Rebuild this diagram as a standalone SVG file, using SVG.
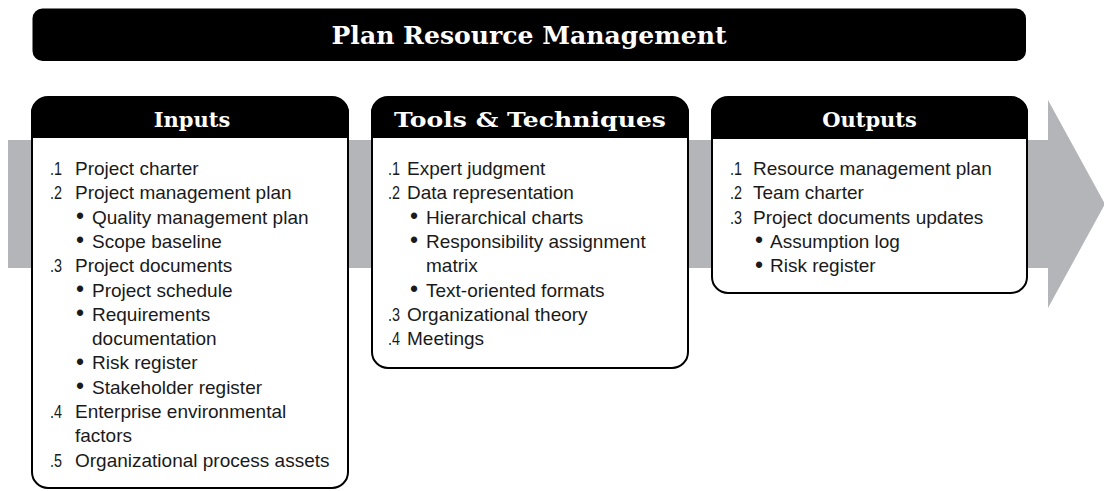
<svg xmlns="http://www.w3.org/2000/svg" width="1104" height="491" viewBox="0 0 1104 491">
  <style>
    .band { fill: #b3b5b8; }
    .box { fill: #ffffff; stroke: #000000; stroke-width: 2; }
    .hdr { fill: #000000; }
    .title { font-family: "DejaVu Serif", "Liberation Serif", serif; font-weight: bold; font-size: 24px; fill: #ffffff; text-anchor: middle; }
    .htxt { font-family: "DejaVu Serif", "Liberation Serif", serif; font-weight: bold; font-size: 21px; fill: #ffffff; text-anchor: middle; }
    .t { font-family: "Liberation Sans", Arial, sans-serif; font-size: 19px; fill: #1a1a1a; }
    .n { font-family: "Liberation Sans", Arial, sans-serif; font-size: 19px; fill: #1a1a1a; }
    .b { font-family: "Liberation Sans", Arial, sans-serif; font-size: 23px; fill: #1a1a1a; }
  </style>
  <rect width="1104" height="491" fill="#ffffff"/>

  <g id="connectors">
    <polygon class="band" points="8,140 1048,140 1048,100 1105,204 1048,308 1048,268 8,268"/>
  </g>

  <g id="title">
    <rect x="32.5" y="8.5" width="993.5" height="52.5" rx="10" fill="#000000"/>
    <text class="title" x="529" y="44" textLength="395" lengthAdjust="spacingAndGlyphs">Plan Resource Management</text>
  </g>

  <g id="inputs">
    <rect class="box" x="32" y="97" width="316" height="391" rx="16"/>
    <path class="hdr" d="M31,138 V113 A16,16 0 0 1 47,97 H333 A16,16 0 0 1 349,113 V138 Z"/>
    <text class="htxt" x="192" y="127">Inputs</text>
    <text class="n" x="50" y="175" textLength="12" lengthAdjust="spacingAndGlyphs">.1</text>
    <text class="t" x="75" y="175">Project charter</text>
    <text class="n" x="50" y="199.3" textLength="12" lengthAdjust="spacingAndGlyphs">.2</text>
    <text class="t" x="75" y="199.3">Project management plan</text>
    <text class="b" x="76" y="224">•</text>
    <text class="t" x="92" y="223.6">Quality management plan</text>
    <text class="b" x="76" y="248.3">•</text>
    <text class="t" x="92" y="247.9">Scope baseline</text>
    <text class="n" x="50" y="272.2" textLength="12" lengthAdjust="spacingAndGlyphs">.3</text>
    <text class="t" x="75" y="272.2">Project documents</text>
    <text class="b" x="76" y="296.9">•</text>
    <text class="t" x="92" y="296.5">Project schedule</text>
    <text class="b" x="76" y="321.2">•</text>
    <text class="t" x="92" y="320.8">Requirements</text>
    <text class="t" x="92" y="345.1">documentation</text>
    <text class="b" x="76" y="369.8">•</text>
    <text class="t" x="92" y="369.4">Risk register</text>
    <text class="b" x="76" y="394.1">•</text>
    <text class="t" x="92" y="393.7">Stakeholder register</text>
    <text class="n" x="50" y="418" textLength="12" lengthAdjust="spacingAndGlyphs">.4</text>
    <text class="t" x="75" y="418">Enterprise environmental</text>
    <text class="t" x="75" y="442.3">factors</text>
    <text class="n" x="50" y="466.6" textLength="12" lengthAdjust="spacingAndGlyphs">.5</text>
    <text class="t" x="75" y="466.6">Organizational process assets</text>
  </g>

  <g id="tools">
    <rect class="box" x="372" y="97" width="316" height="271" rx="16"/>
    <path class="hdr" d="M371,138 V113 A16,16 0 0 1 387,97 H673 A16,16 0 0 1 689,113 V138 Z"/>
    <text class="htxt" x="530" y="127" textLength="272" lengthAdjust="spacingAndGlyphs">Tools &amp; Techniques</text>
    <text class="n" x="388" y="175" textLength="12" lengthAdjust="spacingAndGlyphs">.1</text>
    <text class="t" x="407" y="175">Expert judgment</text>
    <text class="n" x="388" y="199.3" textLength="12" lengthAdjust="spacingAndGlyphs">.2</text>
    <text class="t" x="407" y="199.3">Data representation</text>
    <text class="b" x="410" y="224">•</text>
    <text class="t" x="426" y="223.6">Hierarchical charts</text>
    <text class="b" x="410" y="248.3">•</text>
    <text class="t" x="426" y="247.9">Responsibility assignment</text>
    <text class="t" x="426" y="272.2">matrix</text>
    <text class="b" x="410" y="296.9">•</text>
    <text class="t" x="426" y="296.5">Text-oriented formats</text>
    <text class="n" x="388" y="320.8" textLength="12" lengthAdjust="spacingAndGlyphs">.3</text>
    <text class="t" x="407" y="320.8">Organizational theory</text>
    <text class="n" x="388" y="345.1" textLength="12" lengthAdjust="spacingAndGlyphs">.4</text>
    <text class="t" x="407" y="345.1">Meetings</text>
  </g>

  <g id="outputs">
    <rect class="box" x="712" y="97" width="315" height="196" rx="16"/>
    <path class="hdr" d="M711,139 V113 A16,16 0 0 1 727,97 H1012 A16,16 0 0 1 1028,113 V139 Z"/>
    <text class="htxt" x="869.5" y="127">Outputs</text>
    <text class="n" x="730" y="175" textLength="12" lengthAdjust="spacingAndGlyphs">.1</text>
    <text class="t" x="753" y="175">Resource management plan</text>
    <text class="n" x="730" y="199.3" textLength="12" lengthAdjust="spacingAndGlyphs">.2</text>
    <text class="t" x="753" y="199.3">Team charter</text>
    <text class="n" x="730" y="223.6" textLength="12" lengthAdjust="spacingAndGlyphs">.3</text>
    <text class="t" x="753" y="223.6">Project documents updates</text>
    <text class="b" x="755" y="248.3">•</text>
    <text class="t" x="770" y="247.9">Assumption log</text>
    <text class="b" x="755" y="272.6">•</text>
    <text class="t" x="770" y="272.2">Risk register</text>
  </g>
</svg>
